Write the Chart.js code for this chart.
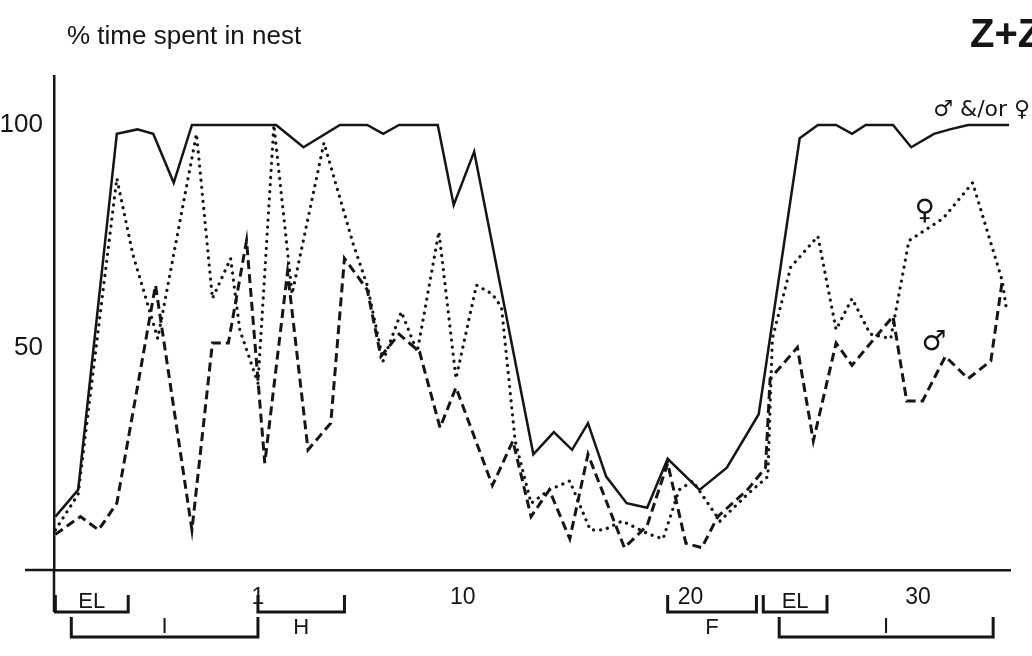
<!DOCTYPE html>
<html>
<head>
<meta charset="utf-8">
<title>% time spent in nest</title>
<script src="https://cdn.jsdelivr.net/npm/chart.js@4.4.1/dist/chart.umd.min.js"></script>
<style>
  body { margin: 0; background: #fff; }
</style>
</head>
<body>
<canvas id="myChart" width="1032" height="656"></canvas>
<script>
// day of the breeding cycle (x) and % time spent in nest (y)
var bothDays = [-7.9,-6.9,-5.2,-4.3,-3.6,-2.7,-1.9,1.8,3.0,4.6,5.8,6.5,7.2,8.9,9.6,10.5,13.1,14.0,14.8,15.5,16.3,17.2,18.1,19.0,20.4,21.6,23.0,24.8,25.6,26.4,27.1,27.7,28.9,29.7,30.7,31.4,32.2,34.0];
var bothPct = [12,18,98,99,98,87,100,100,95,100,100,98,100,100,82,94,26,31,27,33,21,15,14,25,18,23,35,97,100,100,98,100,100,95,98,99,100,100];

var femaleDays = [-7.9,-6.9,-5.2,-4.5,-3.4,-1.7,-1.0,-0.2,0.2,1.0,1.7,2.5,3.9,5.2,5.8,6.5,7.3,8.0,8.95,9.7,10.6,11.3,11.7,12.3,13.0,13.8,14.7,15.6,16.2,17.0,18.2,18.8,19.5,20.1,21.3,22.5,23.4,23.6,24.4,25.6,26.4,27.1,27.9,28.8,29.6,31.1,32.4,33.7,33.9];
var femalePct = [9,17,88,71,52,98,61,70,54,42,100,62,96,73,64,47,58,49,76,43,64,62,59,29,15,18,20,9,9,11,8,7,18,20,11,17,21,52,68,75,54,61,53,52,74,79,87,65,58];

var maleDays = [-7.9,-6.8,-6.0,-5.2,-3.5,-1.9,-1.0,-0.3,0.5,1.3,2.3,3.2,4.2,4.8,5.8,6.4,7.2,8.1,9.0,9.7,11.3,12.2,13.0,13.8,14.7,15.5,17.1,18.1,19.0,19.8,20.5,21.2,22.5,23.3,23.5,24.7,25.4,26.4,27.1,28.9,29.5,30.2,31.2,32.2,33.2,33.7];
var malePct = [8,12,9,15,64,9,51,51,74,24,67,27,33,70,63,48,53,49,32,41,19,29,12,18,7,26,5,10,24,6,5,12,18,23,43,50,29,51,46,57,38,38,48,43,47,65];

var xTicks = [1, 10, 20, 30];
var yTicks = [50, 100];

// stages under the axis: egg laying, incubation, hatching, fledging
var periodNames = ['EL', 'I', 'H', 'F', 'EL', 'I'];
var periodStart = [-7.9, -7.2, 1.0, 19.0, 23.2, 23.9];
var periodEnd = [-4.7, 1.0, 4.8, 22.9, 26.0, 33.3];
var periodRow = [1, 2, 1, 1, 1, 2];

// labels written next to the curves
var noteText = ['\u2642 &/or \u2640', '\u2640', '\u2642'];
var noteDay = [32.8, 30.3, 30.7];
var notePct = [103.4, 80.4, 51];

var ink = '#151515';
var font = '"Liberation Sans", Arial, sans-serif';

function pts(xs, ys) {
    return xs.map(function(x, i) { return { x: x, y: ys[i] }; });
}

var extras = {
    id: 'extras',
    afterDraw: function(chart) {
        var ctx = chart.ctx, a = chart.chartArea;
        var xs = chart.scales.x, ys = chart.scales.y;
        ctx.save();
        ctx.strokeStyle = ink;
        ctx.fillStyle = ink;

        // axis overhang and y axis running down to the first bracket
        ctx.lineWidth = 2.5;
        ctx.beginPath();
        ctx.moveTo(a.left - 29, a.bottom);
        ctx.lineTo(a.left, a.bottom);
        ctx.moveTo(a.left, a.bottom);
        ctx.lineTo(a.left, a.bottom + 42);
        ctx.stroke();

        // headings
        ctx.textAlign = 'left';
        ctx.textBaseline = 'alphabetic';
        ctx.font = '26px ' + font;
        ctx.fillText('% time spent in nest', 67, 44);
        ctx.font = 'bold 40px ' + font;
        ctx.fillText('Z+Z', 970, 47);

        // stage brackets
        var rowY = [a.bottom + 42, a.bottom + 67];
        var below = [false, false, true, true, false, false];
        ctx.lineWidth = 3;
        ctx.font = '22px ' + font;
        ctx.textAlign = 'center';
        periodNames.forEach(function(name, i) {
            var x1 = xs.getPixelForValue(periodStart[i]);
            var x2 = xs.getPixelForValue(periodEnd[i]);
            var y = rowY[periodRow[i] - 1];
            var h = periodRow[i] === 1 ? 17 : 20;
            ctx.beginPath();
            ctx.moveTo(x1, y - h);
            ctx.lineTo(x1, y);
            ctx.lineTo(x2, y);
            ctx.lineTo(x2, y - h);
            ctx.stroke();
            if (below[i]) {
                ctx.textBaseline = 'top';
                ctx.fillText(name, (x1 + x2) / 2, y + 5);
            } else {
                ctx.textBaseline = 'bottom';
                ctx.fillText(name, (x1 + x2) / 2, y + 1);
            }
        });

        // sex labels
        ctx.textBaseline = 'middle';
        noteText.forEach(function(t, i) {
            ctx.font = (i === 0 ? '22px ' : '28px ') + '"DejaVu Sans", sans-serif';
            ctx.fillText(t, xs.getPixelForValue(noteDay[i]), ys.getPixelForValue(notePct[i]));
        });
        ctx.restore();
    }
};

var ctx = document.getElementById('myChart');
var myChart = new Chart(ctx, {
    type: 'line',
    data: {
        datasets: [
            {
                label: '\u2642 &/or \u2640',
                data: pts(bothDays, bothPct),
                borderColor: ink,
                borderWidth: 2.5,
                fill: false
            },
            {
                label: '\u2640',
                data: pts(femaleDays, femalePct),
                borderColor: ink,
                borderWidth: 3.2,
                borderDash: [0.1, 7],
                borderCapStyle: 'round',
                fill: false
            },
            {
                label: '\u2642',
                data: pts(maleDays, malePct),
                borderColor: ink,
                borderWidth: 3,
                borderDash: [9, 5],
                fill: false
            }
        ]
    },
    options: {
        responsive: false,
        animation: false,
        tension: 0,
        pointRadius: 0,
        layout: { padding: { top: 76, right: 22, bottom: 0, left: 0 } },
        plugins: {
            legend: { display: false },
            title: { display: false },
            tooltip: { enabled: false }
        },
        scales: {
            x: {
                type: 'linear',
                min: -7.96,
                max: 34.04,
                grid: { display: false },
                border: { display: true, color: ink, width: 2.5 },
                ticks: {
                    autoSkip: false,
                    maxRotation: 0,
                    padding: 6,
                    color: ink,
                    font: { family: font, size: 23 }
                },
                afterBuildTicks: function(scale) {
                    scale.ticks = xTicks.map(function(v) { return { value: v }; });
                },
                afterFit: function(scale) { scale.height = 86; }
            },
            y: {
                min: 0,
                max: 111,
                grid: { display: false },
                border: { display: true, color: ink, width: 2.5 },
                ticks: {
                    autoSkip: false,
                    padding: 3,
                    color: ink,
                    font: { family: font, size: 26 }
                },
                afterBuildTicks: function(scale) {
                    scale.ticks = yTicks.map(function(v) { return { value: v }; });
                },
                afterFit: function(scale) { scale.width = 54; }
            }
        }
    },
    plugins: [extras]
});
</script>
</body>
</html>
